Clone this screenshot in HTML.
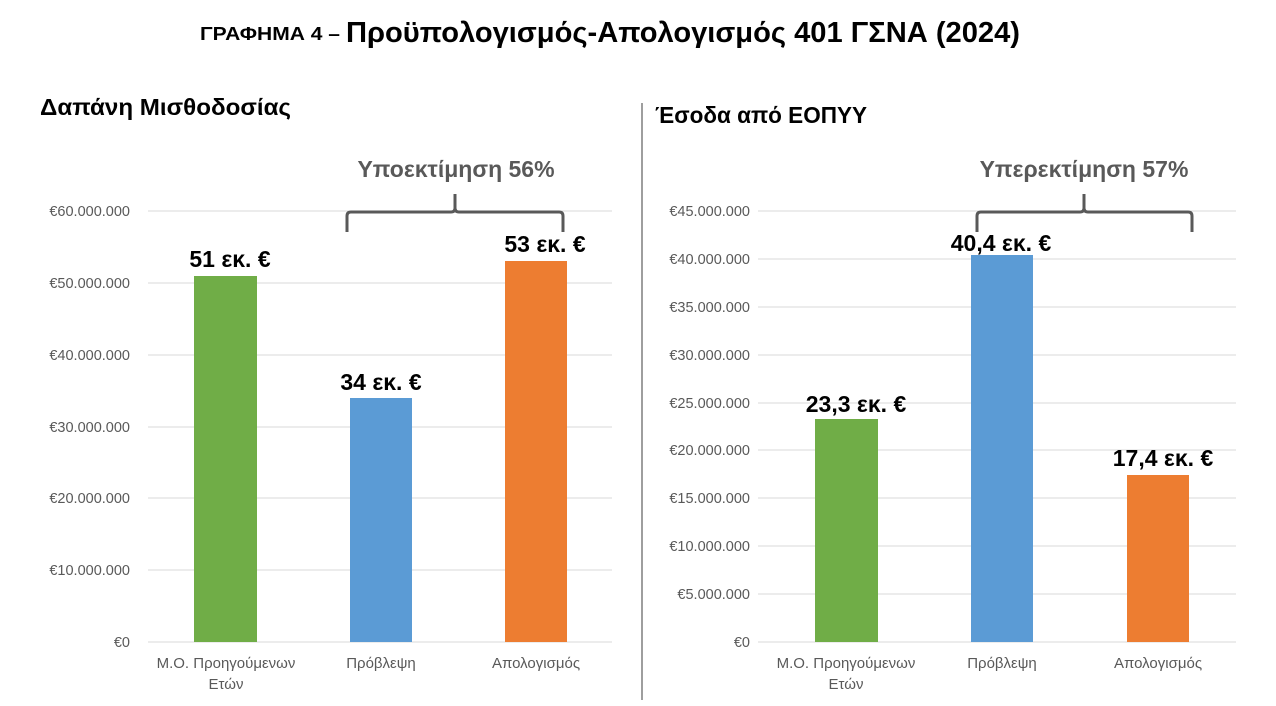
<!DOCTYPE html>
<html><head><meta charset="utf-8"><style>
body{margin:0;background:#fff;width:1276px;height:706px;overflow:hidden}
svg{display:block}
text{font-family:"Liberation Sans","DejaVu Sans",sans-serif}
</style></head><body>
<svg width="1276" height="706" viewBox="0 0 1276 706">
<text x="200" y="40" font-size="18" font-weight="bold" fill="#000" textLength="140" lengthAdjust="spacingAndGlyphs">ΓΡΑΦΗΜΑ 4 –</text>
<text x="346" y="42" font-size="29" font-weight="bold" fill="#000" textLength="674" lengthAdjust="spacingAndGlyphs">Προϋπολογισμός-Απολογισμός 401 ΓΣΝΑ (2024)</text>
<text x="40" y="115" font-size="23" font-weight="bold" fill="#000" textLength="251" lengthAdjust="spacingAndGlyphs">Δαπάνη Μισθοδοσίας</text>
<text x="655" y="123" font-size="23" font-weight="bold" fill="#000" textLength="212" lengthAdjust="spacingAndGlyphs">Έσοδα από ΕΟΠΥΥ</text>
<line x1="642" y1="103" x2="642" y2="700" stroke="#7f7f7f" stroke-width="1.5"/>
<g stroke="#d9d9d9" stroke-width="1">
<line x1="148" y1="211" x2="612" y2="211"/><line x1="148" y1="283" x2="612" y2="283"/><line x1="148" y1="355" x2="612" y2="355"/><line x1="148" y1="427" x2="612" y2="427"/><line x1="148" y1="498" x2="612" y2="498"/><line x1="148" y1="570" x2="612" y2="570"/><line x1="148" y1="642" x2="612" y2="642"/>
<line x1="758" y1="211" x2="1236" y2="211"/><line x1="758" y1="259" x2="1236" y2="259"/><line x1="758" y1="307" x2="1236" y2="307"/><line x1="758" y1="355" x2="1236" y2="355"/><line x1="758" y1="403" x2="1236" y2="403"/><line x1="758" y1="450" x2="1236" y2="450"/><line x1="758" y1="498" x2="1236" y2="498"/><line x1="758" y1="546" x2="1236" y2="546"/><line x1="758" y1="594" x2="1236" y2="594"/><line x1="758" y1="642" x2="1236" y2="642"/>
</g>
<g font-size="14.5" fill="#595959" text-anchor="end">
<text x="130" y="216">€60.000.000</text><text x="130" y="288">€50.000.000</text><text x="130" y="360">€40.000.000</text><text x="130" y="432">€30.000.000</text><text x="130" y="503">€20.000.000</text><text x="130" y="575">€10.000.000</text><text x="130" y="647">€0</text>
<text x="750" y="216">€45.000.000</text><text x="750" y="264">€40.000.000</text><text x="750" y="312">€35.000.000</text><text x="750" y="360">€30.000.000</text><text x="750" y="408">€25.000.000</text><text x="750" y="455">€20.000.000</text><text x="750" y="503">€15.000.000</text><text x="750" y="551">€10.000.000</text><text x="750" y="599">€5.000.000</text><text x="750" y="647">€0</text>
</g>
<rect x="194" y="276" width="63" height="366" fill="#70ad47"/>
<rect x="350" y="398" width="62" height="244" fill="#5b9bd5"/>
<rect x="505" y="261" width="62" height="381" fill="#ed7d31"/>
<rect x="815" y="419" width="63" height="223" fill="#70ad47"/>
<rect x="971" y="255" width="62" height="387" fill="#5b9bd5"/>
<rect x="1127" y="475" width="62" height="167" fill="#ed7d31"/>
<g font-size="23" font-weight="bold" fill="#000" text-anchor="middle">
<text x="230" y="267">51 εκ. €</text><text x="381" y="390">34 εκ. €</text><text x="545" y="252">53 εκ. €</text>
<text x="856" y="412">23,3 εκ. €</text><text x="1001" y="251">40,4 εκ. €</text><text x="1163" y="466">17,4 εκ. €</text>
</g>
<g font-size="15" fill="#595959" text-anchor="middle">
<text x="226" y="668">Μ.Ο. Προηγούμενων</text><text x="226" y="689">Ετών</text><text x="381" y="668">Πρόβλεψη</text><text x="536" y="668">Απολογισμός</text>
<text x="846" y="668">Μ.Ο. Προηγούμενων</text><text x="846" y="689">Ετών</text><text x="1002" y="668">Πρόβλεψη</text><text x="1158" y="668">Απολογισμός</text>
</g>
<g fill="none" stroke="#595959" stroke-width="3">
<path d="M347 232 V216 Q347 212 351 212 H451 Q455 212 455 208 V194 M455 208 Q455 212 459 212 H559 Q563 212 563 216 V232"/>
<path d="M977 232 V216 Q977 212 981 212 H1080 Q1084 212 1084 208 V194 M1084 208 Q1084 212 1088 212 H1188 Q1192 212 1192 216 V232"/>
</g>
<g font-size="23" font-weight="bold" fill="#595959" text-anchor="middle">
<text x="456" y="177">Υποεκτίμηση 56%</text>
<text x="1084" y="177">Υπερεκτίμηση 57%</text>
</g>
</svg>
</body></html>
